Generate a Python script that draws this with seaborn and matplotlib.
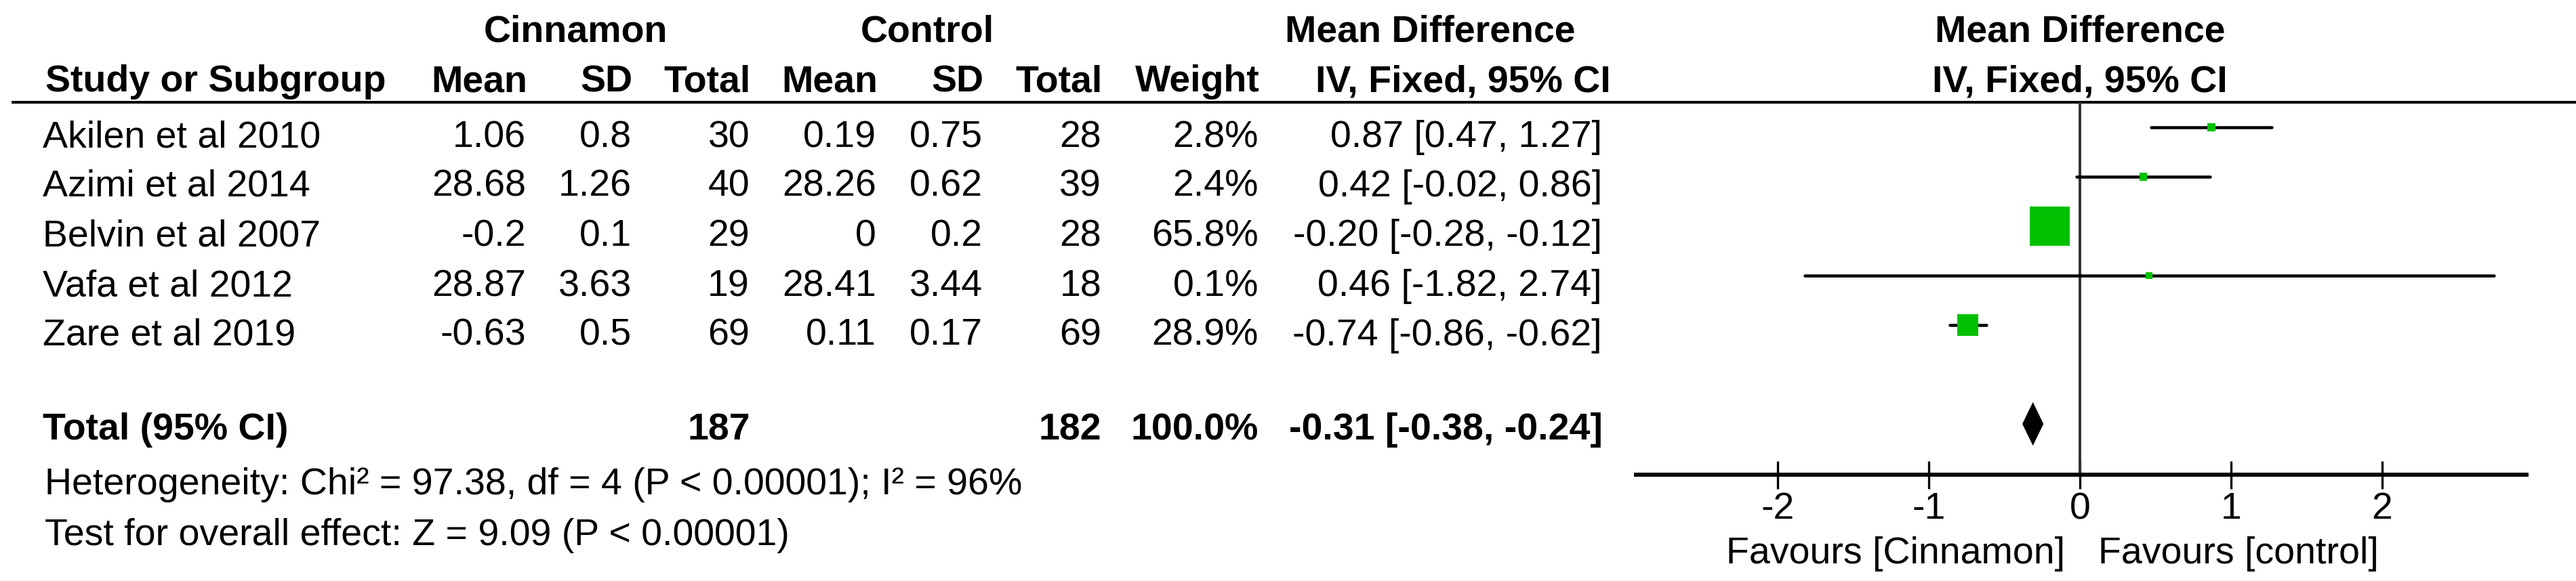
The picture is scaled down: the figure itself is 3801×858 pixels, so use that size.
import numpy as np
import pandas as pd
import matplotlib
matplotlib.use("Agg")
import matplotlib.pyplot as plt
import seaborn as sns

# ---------------- data ----------------
studies = ["Akilen et al 2010", "Azimi et al 2014", "Belvin et al 2007",
           "Vafa et al 2012", "Zare et al 2019"]
cin_mean = [1.06, 28.68, -0.2, 28.87, -0.63]
cin_sd = [0.8, 1.26, 0.1, 3.63, 0.5]
cin_n = [30, 40, 29, 19, 69]
ctl_mean = [0.19, 28.26, 0, 28.41, 0.11]
ctl_sd = [0.75, 0.62, 0.2, 3.44, 0.17]
ctl_n = [28, 39, 28, 18, 69]
weight = [2.8, 2.4, 65.8, 0.1, 28.9]
md = [0.87, 0.42, -0.20, 0.46, -0.74]
ci_lo = [0.47, -0.02, -0.28, -1.82, -0.86]
ci_hi = [1.27, 0.86, -0.12, 2.74, -0.62]
total_cin, total_ctl, total_weight = 187, 182, 100.0
total_md, total_lo, total_hi = -0.31, -0.38, -0.24
heterogeneity = "Heterogeneity: Chi² = 97.38, df = 4 (P < 0.00001); I² = 96%"
overall = "Test for overall effect: Z = 9.09 (P < 0.00001)"
tick_values = [-2, -1, 0, 1, 2]
favours_left = "Favours [Cinnamon]"
favours_right = "Favours [control]"

# ---------------- style ----------------
sns.set_theme(style="white")
plt.rcParams["font.family"] = ["Liberation Sans", "DejaVu Sans"]
plt.rcParams["axes.unicode_minus"] = False

W, H = 3801, 858
PT = 0.72  # points per pixel at dpi 100
FS = 40
GREEN = "#00C000"

fig = plt.figure(figsize=(W / 100, H / 100), dpi=100)
fig.patch.set_facecolor("white")

# overlay axes in pixel coordinates for the table
ax_t = fig.add_axes([0, 0, 1, 1])
ax_t.set_xlim(0, W)
ax_t.set_ylim(H, 0)
ax_t.axis("off")
ax_t.patch.set_alpha(0)

def txt(x, y, s, ha="left", bold=False, **kw):
    ax_t.text(x, y, s, ha=ha, va="baseline", fontsize=FS,
              fontweight="bold" if bold else "normal", color="black", **kw)

# headers
hy1, hy2 = 62, 135
txt(849, hy1, "Cinnamon", ha="center", bold=True)
txt(1368, hy1, "Control", ha="center", bold=True)
txt(2110, hy1, "Mean Difference", ha="center", bold=True)
txt(3069, hy1, "Mean Difference", ha="center", bold=True)

txt(67, hy2, "Study or Subgroup", bold=True)
col_right = [776, 932, 1106, 1293, 1450, 1625, 1857]
for x, s in zip(col_right, ["Mean", "SD", "Total", "Mean", "SD", "Total", "Weight"]):
    txt(x + 2, hy2, s, ha="right", bold=True)
txt(2159, hy2, "IV, Fixed, 95% CI", ha="center", bold=True)
txt(3069, hy2, "IV, Fixed, 95% CI", ha="center", bold=True)

# header rule
ax_t.plot([17, W], [151, 151], color="black", lw=4 * PT, solid_capstyle="butt")

# study rows
row_base = [217, 290, 363, 437, 510]
ci_right = 2364
for i, yb in enumerate(row_base):
    txt(63, yb, studies[i])
    vals = [format(cin_mean[i], "g"), format(cin_sd[i], "g"), str(cin_n[i]),
            format(ctl_mean[i], "g"), format(ctl_sd[i], "g"), str(ctl_n[i]),
            f"{weight[i]:.1f}%"]
    for x, s in zip(col_right, vals):
        txt(x, yb, s, ha="right")
    txt(ci_right, yb, f"{md[i]:.2f} [{ci_lo[i]:.2f}, {ci_hi[i]:.2f}]", ha="right")

# total row
tb = 649
txt(63, tb, "Total (95% CI)", bold=True)
txt(col_right[2] + 1, tb, str(total_cin), ha="right", bold=True)
txt(col_right[5], tb, str(total_ctl), ha="right", bold=True)
txt(col_right[6], tb, f"{total_weight:.1f}%", ha="right", bold=True)
txt(ci_right + 1, tb, f"{total_md:.2f} [{total_lo:.2f}, {total_hi:.2f}]", ha="right", bold=True)

txt(66, 730, heterogeneity)
txt(66, 805, overall)

# ---------------- forest plot ----------------
fx0, fx1, fy0, fy1 = 2411, 3731, 151, 701
ax = fig.add_axes([fx0 / W, (H - fy1) / H, (fx1 - fx0) / W, (fy1 - fy0) / H])
ax.patch.set_alpha(0)
ax.set_xlim(-2.95, 2.97)
row0, step = 188, 73
ax.set_ylim((fy1 - row0) / step, (fy0 - row0) / step)

rows = list(range(len(studies)))
ci_df = pd.DataFrame({"x": ci_lo + ci_hi, "row": rows * 2, "study": studies * 2})
sns.lineplot(data=ci_df, x="x", y="row", units="study", estimator=None,
             color="black", lw=4.5 * PT, ax=ax, legend=False, sort=False, zorder=2)

pt_df = pd.DataFrame({"md": md, "row": rows, "weight": weight})
side_px = 10 + 0.74 * pt_df["weight"].to_numpy()
sns.scatterplot(data=pt_df, x="md", y="row", marker="s", s=(side_px * PT) ** 2,
                color=GREEN, linewidth=0, ax=ax, legend=False, zorder=3)

# total diamond
trow = 6
hh = 0.44
ax.fill([total_lo, total_md, total_hi, total_md],
        [trow, trow - hh, trow, trow + hh], color="black", lw=0, zorder=3)

ax.axvline(0, color="#333333", lw=4 * PT, zorder=1)

for s in ["left", "right", "top"]:
    ax.spines[s].set_visible(False)
ax.spines["bottom"].set_visible(True)
ax.spines["bottom"].set_color("black")
ax.spines["bottom"].set_linewidth(6 * PT)
ax.spines["bottom"].set_capstyle("butt")
ax.set_yticks([])
ax.set_xticks(tick_values)
ax.set_xticklabels([str(t) for t in tick_values])
ax.tick_params(axis="x", direction="inout", length=41 * PT, width=3.3 * PT,
               color="black", pad=3.5, labelsize=FS, labelcolor="black",
               bottom=True)
ax.set_xlabel("")
ax.set_ylabel("")
ax.grid(False)

txt(3047, 832, favours_left, ha="right")
txt(3096, 832, favours_right, ha="left")

fig.savefig("out.png", dpi=100, facecolor="white")
